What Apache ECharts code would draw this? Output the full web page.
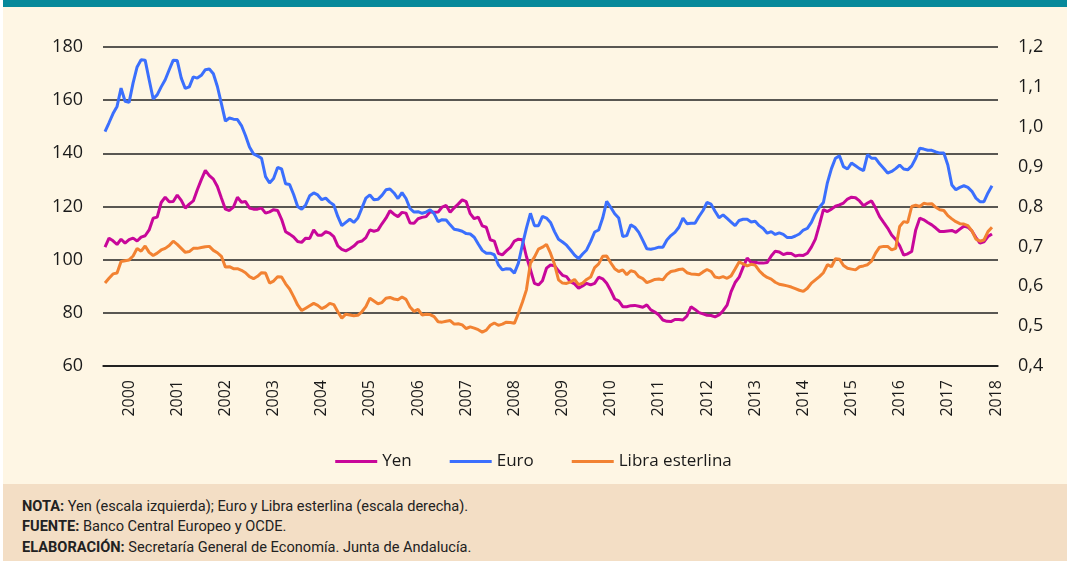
<!DOCTYPE html>
<html lang="es">

<head>
    <meta charset="UTF-8">
    <title>Tipos de cambio frente al dólar</title>
    <script src="https://cdn.jsdelivr.net/npm/echarts@6/dist/echarts.min.js"></script>
    <style>
        body { margin: 0; }
        #page { position: relative; width: 1067px; height: 561px; background: #fff; overflow: hidden; }
        #top { position: absolute; left: 3px; top: 0; width: 1064px; height: 7px; background: #07899a; }
        #fondo { position: absolute; left: 3px; top: 7px; width: 1064px; height: 477px; background: #fef6e4; }
        #pie { position: absolute; left: 3px; top: 484px; width: 1064px; height: 77px; background: #f3dec5;
               font-family: Roboto, sans-serif; font-size: 14.6px; color: #222; }
        #pie div { position: absolute; left: 19px; white-space: nowrap; }
        #chart { position: absolute; left: 0; top: 0; width: 1067px; height: 484px; }
    </style>
</head>

<body>
    <div id="page">
        <div id="top"></div>
        <div id="fondo"></div>
        <div id="pie">
            <div style="top: 13px;"><b>NOTA:</b> Yen (escala izquierda); Euro y Libra esterlina (escala derecha).</div>
            <div style="top: 33px;"><b>FUENTE:</b> Banco Central Europeo y OCDE.</div>
            <div style="top: 54px;"><b>ELABORACIÓN:</b> Secretaría General de Economía. Junta de Andalucía.</div>
        </div>
        <div id="chart"></div>
    </div>
    <script>
        // años del eje (datos mensuales desde enero 2000)
        var years = [2000, 2001, 2002, 2003, 2004, 2005, 2006, 2007, 2008, 2009,
            2010, 2011, 2012, 2013, 2014, 2015, 2016, 2017, 2018];

        // yenes por dólar (escala izquierda)
        var yen = [
            104.7, 108.1, 107.1, 105.7, 107.7, 106.2, 107.5, 108.1, 107.0, 108.5, 109.0, 111.2,
            115.6, 116.0, 121.5, 123.5, 121.8, 121.9, 124.3, 122.3, 119.4, 120.9, 122.1, 126.3,
            130.1, 133.6, 131.6, 130.3, 127.5, 123.2, 119.0, 118.5, 119.8, 123.5, 121.6, 121.9,
            119.4, 119.0, 119.0, 119.4, 117.5, 118.0, 118.8, 118.5, 115.2, 110.5, 109.6, 108.5,
            106.8, 106.5, 108.1, 108.0, 111.2, 109.2, 109.2, 110.5, 110.0, 108.7, 105.2, 103.9,
            103.3, 104.1, 105.1, 106.6, 107.0, 108.3, 111.2, 110.7, 111.1, 113.5, 115.6, 118.4,
            117.1, 116.2, 117.8, 117.5, 113.8, 113.7, 115.4, 115.9, 116.2, 118.0, 117.8, 117.9,
            119.8, 120.4, 117.8, 119.5, 120.9, 122.5, 121.8, 117.3, 115.4, 116.0, 112.7, 112.2,
            107.5, 107.0, 102.4, 101.8, 103.3, 104.6, 107.0, 107.7, 107.5, 101.2, 96.2, 91.1,
            90.5, 92.1, 96.8, 98.0, 97.7, 95.8, 94.1, 93.6, 91.6, 90.9, 89.3, 90.1,
            91.1, 90.5, 91.1, 93.4, 92.8, 91.1, 88.4, 85.2, 84.5, 82.3, 82.3, 82.7,
            82.8, 82.5, 82.1, 83.0, 81.1, 80.3, 79.2, 77.3, 76.8, 76.7, 77.5, 77.5,
            77.3, 78.8, 82.3, 81.3, 80.1, 79.6, 79.1, 79.0, 78.5, 79.2, 80.8, 82.9,
            88.0, 91.4, 93.4, 97.2, 100.6, 98.9, 99.0, 98.7, 98.7, 98.9, 101.4, 103.2,
            102.9, 101.9, 102.4, 102.3, 101.4, 101.7, 101.6, 102.4, 104.7, 107.7, 113.1, 118.8,
            118.1, 119.0, 120.1, 120.6, 121.3, 122.8, 123.5, 123.3, 122.1, 120.3, 121.3, 122.1,
            119.4, 116.2, 114.0, 111.9, 109.3, 107.6, 105.2, 101.7, 102.2, 103.1, 111.2, 115.6,
            115.0, 114.0, 113.1, 111.9, 110.6, 110.6, 110.8, 111.0, 110.3, 111.5, 112.6, 112.2,
            110.8, 108.3, 106.2, 106.7, 108.7, 109.7
        ];

        // euros por dólar (escala derecha)
        var euro = [
            0.988, 1.010, 1.033, 1.051, 1.097, 1.064, 1.061, 1.110, 1.150, 1.168, 1.167, 1.118,
            1.070, 1.080, 1.100, 1.118, 1.143, 1.167, 1.166, 1.122, 1.096, 1.100, 1.125, 1.122,
            1.129, 1.143, 1.145, 1.133, 1.101, 1.058, 1.014, 1.022, 1.019, 1.018, 1.003, 0.978,
            0.949, 0.932, 0.927, 0.921, 0.875, 0.859, 0.870, 0.898, 0.894, 0.857, 0.855, 0.830,
            0.800, 0.793, 0.804, 0.827, 0.834, 0.829, 0.817, 0.821, 0.811, 0.804, 0.775, 0.752,
            0.760, 0.768, 0.760, 0.771, 0.796, 0.821, 0.829, 0.817, 0.818, 0.828, 0.842, 0.844,
            0.834, 0.820, 0.835, 0.820, 0.795, 0.786, 0.787, 0.783, 0.786, 0.792, 0.782, 0.762,
            0.767, 0.766, 0.754, 0.743, 0.741, 0.738, 0.732, 0.731, 0.723, 0.706, 0.690, 0.683,
            0.683, 0.679, 0.654, 0.641, 0.644, 0.643, 0.633, 0.658, 0.704, 0.746, 0.783, 0.752,
            0.752, 0.775, 0.771, 0.760, 0.737, 0.718, 0.711, 0.703, 0.691, 0.678, 0.669, 0.681,
            0.691, 0.712, 0.736, 0.741, 0.771, 0.813, 0.798, 0.782, 0.771, 0.725, 0.727, 0.754,
            0.748, 0.735, 0.715, 0.694, 0.693, 0.695, 0.698, 0.698, 0.716, 0.727, 0.735, 0.748,
            0.771, 0.757, 0.758, 0.758, 0.775, 0.790, 0.810, 0.806, 0.788, 0.772, 0.779, 0.770,
            0.761, 0.752, 0.765, 0.768, 0.768, 0.761, 0.763, 0.752, 0.745, 0.733, 0.737, 0.730,
            0.734, 0.730, 0.722, 0.722, 0.726, 0.731, 0.741, 0.745, 0.760, 0.782, 0.798, 0.810,
            0.860, 0.895, 0.921, 0.927, 0.900, 0.894, 0.909, 0.902, 0.895, 0.890, 0.930, 0.921,
            0.921, 0.907, 0.896, 0.884, 0.888, 0.895, 0.904, 0.894, 0.892, 0.902, 0.921, 0.946,
            0.944, 0.941, 0.941, 0.937, 0.934, 0.934, 0.904, 0.854, 0.842, 0.848, 0.852, 0.848,
            0.838, 0.821, 0.812, 0.812, 0.834, 0.852
        ];

        // libras por dólar (escala derecha)
        var libra = [
            0.608, 0.620, 0.631, 0.633, 0.662, 0.664, 0.666, 0.676, 0.695, 0.688, 0.701, 0.685,
            0.677, 0.683, 0.691, 0.695, 0.702, 0.713, 0.705, 0.695, 0.685, 0.687, 0.695, 0.695,
            0.697, 0.699, 0.700, 0.690, 0.684, 0.675, 0.648, 0.649, 0.644, 0.644, 0.640, 0.634,
            0.624, 0.619, 0.625, 0.634, 0.633, 0.608, 0.613, 0.624, 0.623, 0.606, 0.593, 0.574,
            0.553, 0.539, 0.545, 0.551, 0.557, 0.552, 0.544, 0.549, 0.557, 0.554, 0.536, 0.520,
            0.530, 0.528, 0.526, 0.527, 0.536, 0.549, 0.570, 0.563, 0.556, 0.559, 0.570, 0.572,
            0.568, 0.566, 0.573, 0.567, 0.548, 0.537, 0.542, 0.528, 0.530, 0.529, 0.524, 0.511,
            0.510, 0.512, 0.514, 0.505, 0.506, 0.503, 0.494, 0.498, 0.495, 0.491, 0.485, 0.490,
            0.502, 0.508, 0.502, 0.505, 0.510, 0.509, 0.507, 0.532, 0.560, 0.591, 0.658, 0.673,
            0.693, 0.698, 0.705, 0.683, 0.655, 0.616, 0.608, 0.607, 0.611, 0.617, 0.604, 0.608,
            0.617, 0.623, 0.647, 0.656, 0.675, 0.676, 0.659, 0.644, 0.637, 0.641, 0.629, 0.639,
            0.636, 0.624, 0.619, 0.609, 0.613, 0.617, 0.618, 0.616, 0.629, 0.637, 0.639, 0.642,
            0.643, 0.634, 0.631, 0.630, 0.629, 0.636, 0.642, 0.637, 0.623, 0.621, 0.624, 0.620,
            0.626, 0.643, 0.661, 0.656, 0.651, 0.655, 0.653, 0.639, 0.629, 0.622, 0.618, 0.610,
            0.605, 0.603, 0.601, 0.598, 0.594, 0.590, 0.587, 0.595, 0.608, 0.616, 0.624, 0.634,
            0.654, 0.649, 0.669, 0.668, 0.652, 0.645, 0.643, 0.641, 0.649, 0.651, 0.654, 0.663,
            0.683, 0.698, 0.700, 0.700, 0.691, 0.695, 0.750, 0.762, 0.760, 0.800, 0.803, 0.800,
            0.808, 0.806, 0.807, 0.798, 0.792, 0.790, 0.777, 0.769, 0.762, 0.757, 0.756, 0.752,
            0.739, 0.718, 0.713, 0.716, 0.737, 0.748
        ];

        // categorías mensuales (el eje llega hasta julio de 2018)
        var months = [];
        years.forEach(function (y) {
            for (var m = 1; m <= 12; m++) {
                if (y === 2018 && m > 7) break;
                months.push(y + "-" + (m < 10 ? "0" + m : m));
            }
        });

        var font = "'Open Sans', sans-serif";
        var myChart = echarts.init(document.getElementById("chart"));
        var options = {
            animation: false,
            grid: {
                left: 103,
                right: 69,
                top: 47,
                bottom: 118
            },
            legend: {
                data: ["Yen", "Euro", "Libra esterlina"],
                bottom: 9,
                icon: "rect",
                itemWidth: 42,
                itemHeight: 3,
                itemGap: 38,
                textStyle: { fontFamily: font, fontSize: 17, color: "#1a1a1a" }
            },
            xAxis: {
                type: "category",
                data: months,
                boundaryGap: true,
                axisLine: { lineStyle: { color: "#111", width: 1.5 } },
                axisTick: {
                    interval: function (i) { return i % 12 === 0; },
                    length: 6,
                    lineStyle: { color: "#111", width: 1.5 }
                },
                axisLabel: {
                    interval: function (i) { return i % 12 === 6; },
                    formatter: function (v) { return v.slice(0, 4); },
                    rotate: 90,
                    margin: 14,
                    fontFamily: font,
                    fontSize: 16,
                    color: "#1a1a1a"
                }
            },
            yAxis: [
                {
                    type: "value",
                    min: 60,
                    max: 180,
                    interval: 20,
                    axisLabel: { fontFamily: font, fontSize: 18, color: "#1a1a1a", margin: 20 },
                    splitLine: { lineStyle: { color: "#222", width: 1.5 } }
                },
                {
                    type: "value",
                    min: 0.4,
                    max: 1.2,
                    interval: 0.1,
                    axisLabel: {
                        fontFamily: font, fontSize: 18, color: "#1a1a1a", margin: 20,
                        formatter: function (v) { return v.toFixed(1).replace(".", ","); }
                    },
                    splitLine: { show: false }
                }
            ],
            series: [
                {
                    name: "Yen",
                    type: "line",
                    yAxisIndex: 0,
                    data: yen,
                    symbol: "none",
                    color: "#c8079a",
                    lineStyle: { width: 3 }
                },
                {
                    name: "Euro",
                    type: "line",
                    yAxisIndex: 1,
                    data: euro,
                    symbol: "none",
                    color: "#3b6ffd",
                    lineStyle: { width: 3 }
                },
                {
                    name: "Libra esterlina",
                    type: "line",
                    yAxisIndex: 1,
                    data: libra,
                    symbol: "none",
                    color: "#f28232",
                    lineStyle: { width: 3 }
                }
            ]
        };
        myChart.setOption(options);
    </script>
</body>

</html>
